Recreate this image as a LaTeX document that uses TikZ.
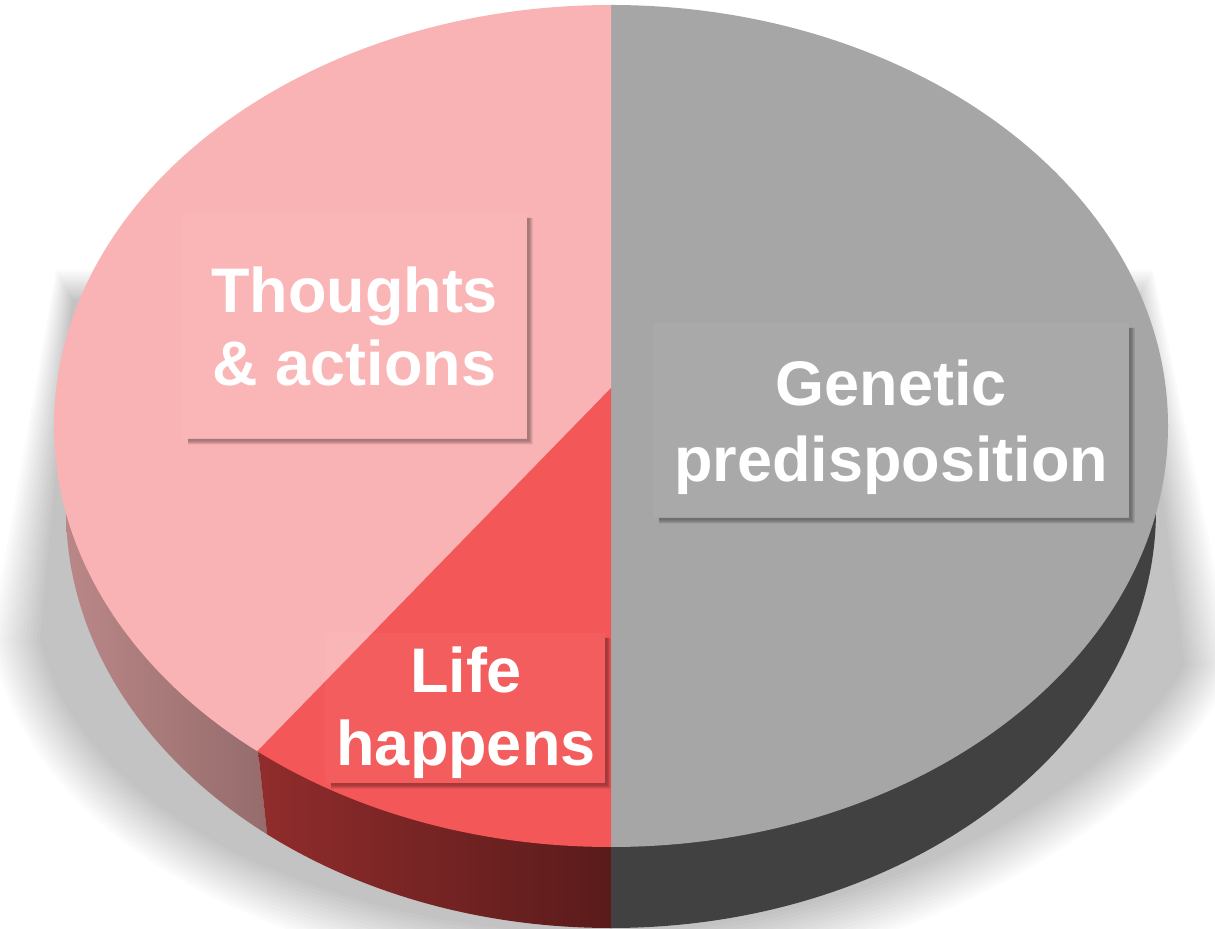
\documentclass[tikz,border=0pt]{standalone}
\usepackage{fontspec}
\setmainfont{Liberation Sans}
\definecolor{pinkTop}{HTML}{FAB3B4}
\definecolor{redTop}{HTML}{F45757}
\definecolor{greyTop}{HTML}{A6A6A6}
\definecolor{mauveL}{HTML}{C69090}
\definecolor{mauveR}{HTML}{926969}
\definecolor{redSideL}{HTML}{912C2C}
\definecolor{redSideR}{HTML}{5A1B1B}
\definecolor{greySide}{HTML}{414141}
\newcommand{\labelshadow}[4]{%
  \foreach \d in {5.5,4,2.5}{%
    \fill[black,opacity=0.12] (#3,#2+5) -- (#3+\d,#2+5) -- (#3+\d,#4+\d) -- (#1+6,#4+\d) -- (#1+6,#4) -- (#3,#4) -- cycle;
  }}
\tikzset{
  lbl/.style={text=white, font=\fontsize{31.5}{38}\selectfont\bfseries, anchor=base, inner sep=0pt},
  boxfill/.style={fill=white, fill opacity=0.04}
}
\begin{document}
\begin{tikzpicture}[x=0.5pt,y=-0.5pt]
\useasboundingbox (0,0) rectangle (1215,929);
\clip (0,0) rectangle (1215,929);
\fill[white] (0,0) rectangle (1215,929);

% soft floor shadow (layered blur)
\foreach \i in {0,...,14}{
  \pgfmathsetmacro{\t}{-1+\i/7}
  \fill[black,opacity=0.0145] (64-8*\t, 285-15*\t) -- (15-25*\t, 640)
    .. controls (60-25*\t, 850+20*\t) and (350-10*\t, 960+25*\t) .. (611, 960+25*\t)
    .. controls (880+10*\t, 955+25*\t) and (1150+25*\t, 800+20*\t) .. (1210+25*\t, 665)
    -- (1145+8*\t, 285-15*\t) -- cycle;
}

\coordinate (C) at (611,388);
\coordinate (TopPt) at (611,0);
\coordinate (Split) at (258,750);
\coordinate (SplitFar) at (200,810);
\coordinate (SplitLow) at (285,1000);

% side wall
\begin{scope}
  \clip (611,510) ellipse [x radius=545, y radius=418];
  \shade[left color=mauveL,right color=mauveR] (0,0) -- (258,0) -- (Split) -- (SplitLow) -- (0,1000) -- cycle;
  \shade[left color=redSideL,right color=redSideR] (Split) -- (611,750) -- (611,1000) -- (SplitLow) -- cycle;
  \fill[greySide] (611,0) rectangle (1215,1000);
\end{scope}

% top face
\begin{scope}
  \clip (611,426) ellipse [x radius=557, y radius=421];
  \fill[greyTop] (611,0) rectangle (1215,929);
  \fill[pinkTop] (TopPt) -- (C) -- (SplitFar) -- (0,810) -- (0,0) -- cycle;
  \fill[redTop] (C) -- (SplitFar) -- (200,929) -- (611,929) -- cycle;
\end{scope}

% label boxes
\path[boxfill] (182,213) rectangle (527,439);
\labelshadow{182}{213}{527}{439}
\path[boxfill] (653,323) rectangle (1129,518);
\labelshadow{653}{323}{1129}{518}
\path[boxfill] (325,633) rectangle (605,783);
\labelshadow{325}{633}{605}{783}

% texts
\node[lbl] (t1) at (354.5,313) {Thoughts};
\node[lbl] (t2) at (354.5,386) {\&~actions};
\node[lbl] (g1) at (891,406) {Genetic};
\node[lbl] (g2) at (891,482) {predisposition};
\node[lbl] (l1) at (466,693) {Life};
\node[lbl] (l2) at (466,765) {happens};
\end{tikzpicture}
\end{document}
